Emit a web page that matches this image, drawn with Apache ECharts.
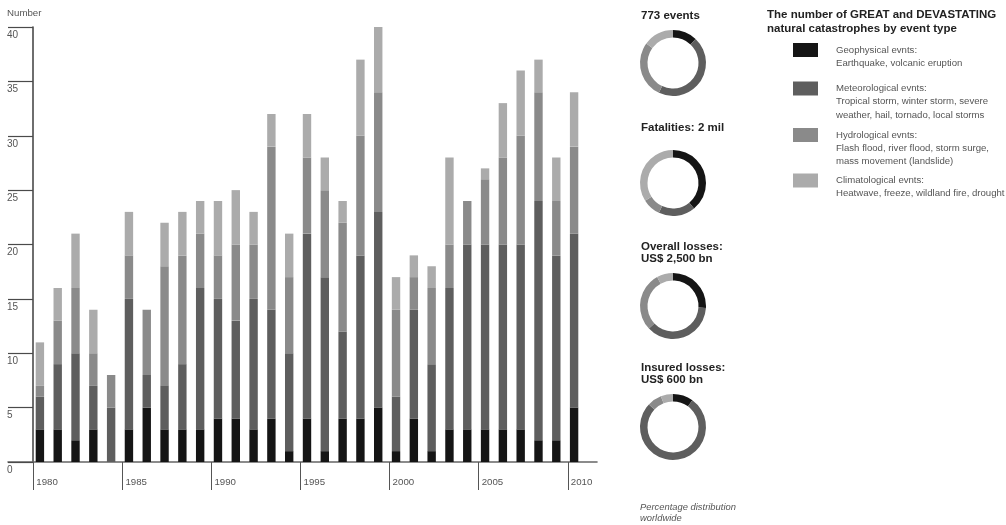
<!DOCTYPE html>
<html>
<head>
<meta charset="utf-8">
<script src="https://cdn.jsdelivr.net/npm/echarts@6/dist/echarts.min.js"></script>
<style>
  html, body { margin: 0; padding: 0; background: #fff; }
  #chart { width: 1006px; height: 525px; }
</style>
</head>
<body>
<div id="chart"></div>
<script>
// Great and devastating natural catastrophes per year, by event type
const years = [1980, 1981, 1982, 1983, 1984, 1985, 1986, 1987, 1988, 1989,
               1990, 1991, 1992, 1993, 1994, 1995, 1996, 1997, 1998, 1999,
               2000, 2001, 2002, 2003, 2004, 2005, 2006, 2007, 2008, 2009, 2010];
const geophysical    = [3, 3, 2, 3, 0, 3, 5, 3, 3, 3, 4, 4, 3, 4, 1, 4, 1, 4, 4, 5, 1, 4, 1, 3, 3, 3, 3, 3, 2, 2, 5];
const meteorological = [3, 6, 8, 4, 5, 12, 3, 4, 6, 13, 11, 9, 12, 10, 9, 17, 16, 8, 15, 18, 5, 10, 8, 13, 17, 17, 17, 17, 22, 17, 16];
const hydrological   = [1, 4, 6, 3, 3, 4, 6, 11, 10, 5, 4, 7, 5, 15, 7, 7, 8, 10, 11, 11, 8, 3, 7, 4, 4, 6, 8, 10, 10, 5, 8];
const climatological = [4, 3, 5, 4, 0, 4, 0, 4, 4, 3, 5, 5, 3, 3, 4, 4, 3, 2, 7, 6, 3, 2, 2, 8, 0, 1, 5, 6, 3, 4, 5];

const yTicks = [0, 5, 10, 15, 20, 25, 30, 35, 40];
const yearTicks = [1980, 1985, 1990, 1995, 2000, 2005, 2010];

// Percentage distribution worldwide (geo, met, hyd, clim)
const shareEvents     = [12, 45, 28, 15];
const shareFatalities = [39, 18, 9, 34];
const shareOverall    = [26, 37, 29, 8];
const shareInsured    = [10, 77, 7, 6];

const typeNames = ['Geophysical evnts:', 'Meteorological evnts:', 'Hydrological evnts:', 'Climatological evnts:'];
const typeDescriptions = [
  ['Earthquake, volcanic eruption'],
  ['Tropical storm, winter storm, severe', 'weather, hail, tornado, local storms'],
  ['Flash flood, river flood, storm surge,', 'mass movement (landslide)'],
  ['Heatwave, freeze, wildland fire, drought']
];
const typeColors = ['#151515', '#5e5e5e', '#8a8a8a', '#ababab'];

const SANS = '"Liberation Sans", Arial, sans-serif';
const TEXT_GREY = '#555';
const AXIS_GREY = '#666';

const chart = echarts.init(document.getElementById('chart'), null, { renderer: 'canvas' });

const barValues = [geophysical, meteorological, hydrological, climatological];
const barSeries = typeNames.map((name, i) => ({
  name: name,
  type: 'bar',
  stack: 'events',
  xAxisIndex: 0,
  yAxisIndex: 0,
  barWidth: 8.4,
  itemStyle: { color: typeColors[i] },
  data: barValues[i]
}));

function donut(values, center) {
  return {
    type: 'pie',
    center: center,
    radius: [25.5, 33],
    startAngle: 90,
    clockwise: true,
    label: { show: false },
    labelLine: { show: false },
    emphasis: { disabled: true },
    itemStyle: { borderWidth: 0 },
    data: values.map((v, i) => ({ name: typeNames[i], value: v, itemStyle: { color: typeColors[i] } }))
  };
}

// Each legend entry is centred on its text block; leading blank lines keep
// the swatch level with the entry's first line.
const LINE_H = 13.3;
const swatchTops = [43, 81.5, 128, 173.5];
const legends = typeNames.map((name, i) => {
  const n = 1 + typeDescriptions[i].length;
  return {
    data: [name],
    left: 793,
    top: swatchTops[i] + 7 - (2 * n - 1) * LINE_H / 2,
    orient: 'vertical',
    padding: 0,
    itemGap: 0,
    itemWidth: 25,
    itemHeight: 14,
    icon: 'rect',
    selectedMode: false,
    formatter: (nm) => {
      const desc = typeDescriptions[typeNames.indexOf(nm)];
      return '\n'.repeat(desc.length) + [nm].concat(desc).join('\n');
    },
    textStyle: {
      fontFamily: SANS,
      fontSize: 9.6,
      lineHeight: LINE_H,
      color: TEXT_GREY,
      padding: [0, 0, 0, 13]
    }
  };
});

const boldTitle = { fontFamily: SANS, fontSize: 11.5, fontWeight: 'bold', color: '#222', lineHeight: 11.7 };

const option = {
  animation: false,
  backgroundColor: '#fff',
  title: [
    { text: 'Number', left: 7, top: 8, padding: 0,
      textStyle: { fontFamily: SANS, fontSize: 9.7, fontWeight: 'normal', color: TEXT_GREY } },
    { text: '773 events', left: 641, top: 10, padding: 0, textStyle: boldTitle },
    { text: 'Fatalities: 2 mil', left: 641, top: 122, padding: 0, textStyle: boldTitle },
    { text: 'Overall losses:\nUS$ 2,500 bn', left: 641, top: 241, padding: 0, textStyle: boldTitle },
    { text: 'Insured losses:\nUS$ 600 bn', left: 641, top: 362, padding: 0, textStyle: boldTitle },
    { text: 'The number of GREAT and DEVASTATING\nnatural catastrophes by event type', left: 767, top: 8, padding: 0,
      textStyle: Object.assign({}, boldTitle, { lineHeight: 14 }) },
    { text: 'Percentage distribution\nworldwide', left: 640, top: 502.5, padding: 0,
      textStyle: { fontFamily: SANS, fontSize: 9.4, fontStyle: 'italic', fontWeight: 'normal', color: TEXT_GREY, lineHeight: 10.5 } }
  ],
  legend: legends,
  grid: [
    // bars
    { left: 31, top: 27, width: 552, height: 435, containLabel: false },
    // vertical axis with its tick lines
    { left: 33, top: 27, width: 560, height: 435, containLabel: false },
    // horizontal axis with year ticks
    { left: 8, top: 27, width: 589, height: 435, containLabel: false }
  ],
  xAxis: [
    { gridIndex: 0, type: 'category', data: years, boundaryGap: true, show: false },
    { gridIndex: 1, type: 'value', min: 0, max: 1, show: false },
    {
      gridIndex: 2, type: 'value', position: 'bottom',
      min: 1978.58, max: 2011.64,
      axisLine: { show: true, lineStyle: { color: AXIS_GREY, width: 1.6 } },
      axisTick: { show: true, customValues: yearTicks, length: 28, lineStyle: { color: '#555', width: 1 } },
      axisLabel: {
        show: true, customValues: yearTicks, align: 'left', margin: 15, padding: [0, 0, 0, 3],
        fontFamily: SANS, fontSize: 9.7, color: TEXT_GREY, formatter: (v) => String(v)
      },
      splitLine: { show: false }
    }
  ],
  yAxis: [
    { gridIndex: 0, type: 'value', min: 0, max: 40, show: false },
    {
      gridIndex: 1, type: 'value', min: 0, max: 40, interval: 5, position: 'left',
      axisLine: { show: true, lineStyle: { color: '#4a4a4a', width: 1.6 } },
      axisTick: { show: true, inside: false, length: 25, customValues: yTicks, lineStyle: { color: '#4a4a4a', width: 1.2 } },
      axisLabel: {
        show: true, customValues: yTicks, align: 'left', verticalAlign: 'top', margin: 26, padding: [3, 0, 0, 0],
        fontFamily: SANS, fontSize: 10, color: TEXT_GREY
      },
      splitLine: { show: false }
    },
    { gridIndex: 2, type: 'value', min: 0, max: 40, show: false }
  ],
  series: barSeries.concat([
    donut(shareEvents, [673, 63]),
    donut(shareFatalities, [673, 183]),
    donut(shareOverall, [673, 306]),
    donut(shareInsured, [673, 427])
  ])
};

chart.setOption(option);
</script>
</body>
</html>
